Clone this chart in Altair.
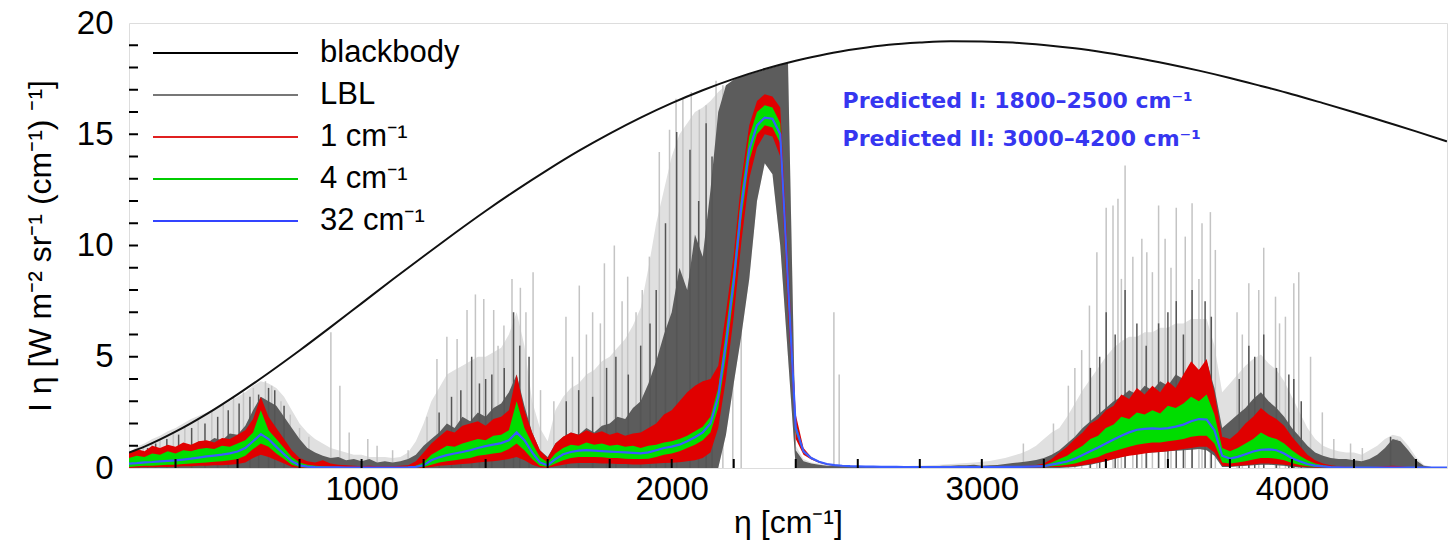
import altair as alt
import pandas as pd

# ---------------- data ----------------
NU = list(range(250, 4501, 25))  # sample positions (cm^-1)

# 32 cm^-1 smoothed spectrum (blue line)
BLUE_32 = [
    0.20, 0.22, 0.25, 0.27, 0.30, 0.32, 0.34, 0.38, 0.42, 0.47,   # 250-475
    0.52, 0.56, 0.60, 0.66, 0.74, 0.90, 1.20, 1.52, 1.30, 0.95,   # 500-725
    0.62, 0.30, 0.12, 0.06, 0.04, 0.03, 0.03, 0.03, 0.02, 0.02,   # 750-975
    0.02, 0.02, 0.02, 0.02, 0.02, 0.02, 0.03, 0.05, 0.12, 0.35,   # 1000-1225
    0.48, 0.58, 0.65, 0.72, 0.80, 0.90, 0.98, 1.05, 1.12, 1.25,   # 1250-1475
    1.60, 1.25, 0.70, 0.25, 0.12, 0.40, 0.62, 0.72, 0.78, 0.80,   # 1500-1725
    0.78, 0.76, 0.74, 0.72, 0.70, 0.68, 0.66, 0.70, 0.80, 0.90,   # 1750-1975
    0.96, 1.05, 1.20, 1.38, 1.60, 2.00, 3.20, 5.60, 8.40, 11.80,  # 2000-2225
    14.30, 15.40, 15.75, 15.70, 15.00, 8.30, 1.80, 0.75, 0.45, 0.28,  # 2250-2475
    0.18, 0.13, 0.10, 0.08, 0.07, 0.06, 0.06, 0.05, 0.05, 0.05,   # 2500-2725
    0.04, 0.04, 0.04, 0.04, 0.04, 0.04, 0.04, 0.04, 0.04, 0.04,   # 2750-2975
    0.04, 0.04, 0.04, 0.05, 0.05, 0.05, 0.06, 0.07, 0.08, 0.15,   # 3000-3225
    0.22, 0.29, 0.42, 0.58, 0.75, 0.92, 1.10, 1.28, 1.45, 1.60,   # 3250-3475
    1.72, 1.76, 1.78, 1.76, 1.79, 1.86, 1.95, 2.10, 2.20, 2.18,   # 3500-3725
    1.70, 0.55, 0.42, 0.50, 0.62, 0.74, 0.82, 0.84, 0.80, 0.65,   # 3750-3975
    0.44, 0.30, 0.18, 0.11, 0.07, 0.04, 0.03, 0.02, 0.02, 0.02,   # 4000-4225
    0.02, 0.02, 0.02, 0.02, 0.02, 0.02, 0.02, 0.02, 0.02, 0.02,   # 4250-4475
    0.02]                                                         # 4500

# 4 cm^-1 spectrum band (green): upper / lower envelope
GREEN_HI = [
    0.45, 0.55, 0.50, 0.65, 0.60, 0.75, 0.65, 0.80, 0.75, 0.85,
    0.90, 0.85, 1.00, 0.95, 1.10, 1.25, 1.60, 2.60, 1.70, 1.30,
    0.90, 0.50, 0.25, 0.15, 0.10, 0.08, 0.06, 0.05, 0.05, 0.04,
    0.04, 0.04, 0.04, 0.04, 0.04, 0.05, 0.06, 0.10, 0.25, 0.60,
    0.80, 1.00, 0.95, 1.10, 1.20, 1.30, 1.25, 1.45, 1.50, 1.70,
    3.00, 1.80, 1.10, 0.50, 0.25, 0.65, 0.90, 1.05, 1.00, 1.15,
    1.05, 1.10, 1.00, 1.05, 0.95, 1.00, 0.90, 1.00, 1.05, 1.15,
    1.20, 1.30, 1.45, 1.65, 1.85, 2.30, 3.60, 6.20, 9.00, 12.40,
    14.90, 16.00, 16.30, 16.20, 15.50, 8.80, 2.00, 0.80, 0.45, 0.28,
    0.18, 0.13, 0.10, 0.08, 0.07, 0.06, 0.06, 0.05, 0.05, 0.05,
    0.05, 0.05, 0.05, 0.05, 0.05, 0.05, 0.05, 0.05, 0.05, 0.05,
    0.05, 0.05, 0.05, 0.06, 0.06, 0.07, 0.08, 0.10, 0.12, 0.25,
    0.40, 0.55, 0.80, 1.00, 1.30, 1.45, 1.80, 1.95, 2.30, 2.20,
    2.50, 2.40, 2.60, 2.45, 2.80, 2.70, 2.90, 3.20, 3.00, 3.30,
    2.40, 0.90, 0.75, 0.90, 1.10, 1.30, 1.60, 1.40, 1.30, 1.10,
    0.80, 0.55, 0.35, 0.20, 0.12, 0.07, 0.05, 0.04, 0.03, 0.03,
    0.03, 0.03, 0.03, 0.03, 0.03, 0.03, 0.03, 0.03, 0.03, 0.03,
    0.03]
GREEN_LO = [
    0.05, 0.08, 0.10, 0.10, 0.12, 0.15, 0.15, 0.18, 0.20, 0.22,
    0.25, 0.28, 0.30, 0.35, 0.40, 0.55, 0.85, 1.10, 0.95, 0.65,
    0.40, 0.15, 0.05, 0.02, 0.01, 0.01, 0.01, 0.01, 0.01, 0.01,
    0.01, 0.01, 0.01, 0.01, 0.01, 0.01, 0.01, 0.02, 0.05, 0.15,
    0.25, 0.30, 0.35, 0.40, 0.45, 0.55, 0.60, 0.65, 0.70, 0.85,
    1.10, 0.80, 0.40, 0.10, 0.05, 0.20, 0.35, 0.45, 0.50, 0.50,
    0.50, 0.48, 0.45, 0.45, 0.42, 0.40, 0.40, 0.42, 0.50, 0.60,
    0.65, 0.75, 0.90, 1.05, 1.25, 1.60, 2.70, 5.00, 7.80, 11.20,
    13.80, 15.00, 15.40, 15.30, 14.60, 7.80, 1.60, 0.70, 0.42, 0.26,
    0.17, 0.12, 0.09, 0.07, 0.06, 0.05, 0.05, 0.04, 0.04, 0.04,
    0.03, 0.03, 0.03, 0.03, 0.03, 0.03, 0.03, 0.03, 0.03, 0.03,
    0.03, 0.03, 0.03, 0.04, 0.04, 0.04, 0.04, 0.05, 0.05, 0.08,
    0.10, 0.15, 0.20, 0.30, 0.40, 0.50, 0.65, 0.75, 0.85, 0.95,
    1.05, 1.10, 1.15, 1.15, 1.20, 1.25, 1.30, 1.40, 1.45, 1.45,
    1.10, 0.25, 0.20, 0.25, 0.30, 0.38, 0.45, 0.45, 0.42, 0.35,
    0.22, 0.14, 0.08, 0.05, 0.03, 0.02, 0.01, 0.01, 0.01, 0.01,
    0.01, 0.01, 0.01, 0.01, 0.01, 0.01, 0.01, 0.01, 0.01, 0.01,
    0.01]

# 1 cm^-1 spectrum band (red): upper / lower envelope
RED_HI = [
    0.70, 0.85, 0.75, 1.00, 0.90, 1.05, 0.95, 1.15, 1.05, 1.20,
    1.25, 1.15, 1.35, 1.30, 1.50, 1.70, 2.20, 3.20, 2.30, 1.80,
    1.30, 0.80, 0.45, 0.30, 0.25, 0.35, 0.20, 0.15, 0.12, 0.10,
    0.08, 0.10, 0.08, 0.08, 0.08, 0.10, 0.12, 0.30, 0.70, 1.10,
    1.40, 1.70, 1.60, 1.90, 2.00, 2.10, 1.90, 2.20, 2.30, 2.60,
    4.20, 2.60, 1.60, 0.80, 0.45, 1.10, 1.40, 1.60, 1.50, 1.70,
    1.55, 1.65, 1.50, 1.60, 1.45, 1.55, 1.60, 1.80, 2.00, 2.40,
    2.60, 3.00, 3.40, 3.70, 3.90, 4.00, 4.60, 7.00, 9.60, 13.00,
    15.40, 16.50, 16.80, 16.70, 16.20, 9.40, 2.40, 0.90, 0.50, 0.30,
    0.20, 0.15, 0.12, 0.10, 0.08, 0.07, 0.06, 0.06, 0.05, 0.05,
    0.05, 0.05, 0.05, 0.05, 0.05, 0.05, 0.05, 0.05, 0.05, 0.05,
    0.06, 0.06, 0.06, 0.07, 0.08, 0.09, 0.10, 0.14, 0.20, 0.40,
    0.70, 0.95, 1.30, 1.60, 2.00, 2.20, 2.60, 2.80, 3.30, 3.10,
    3.60, 3.30, 3.70, 3.40, 3.90, 3.60, 4.20, 4.80, 4.40, 4.90,
    3.40, 1.40, 1.30, 1.60, 2.00, 2.30, 2.70, 2.40, 2.20, 1.90,
    1.40, 1.00, 0.60, 0.35, 0.20, 0.12, 0.08, 0.06, 0.05, 0.05,
    0.05, 0.06, 0.08, 0.10, 0.08, 0.05, 0.04, 0.04, 0.04, 0.04,
    0.04]
RED_LO = [
    0.00, 0.02, 0.03, 0.03, 0.05, 0.05, 0.06, 0.08, 0.08, 0.10,
    0.10, 0.12, 0.12, 0.15, 0.18, 0.25, 0.45, 0.60, 0.50, 0.35,
    0.20, 0.05, 0.01, 0.00, 0.00, 0.00, 0.00, 0.00, 0.00, 0.00,
    0.00, 0.00, 0.00, 0.00, 0.00, 0.00, 0.00, 0.00, 0.01, 0.05,
    0.10, 0.12, 0.15, 0.18, 0.20, 0.25, 0.28, 0.30, 0.35, 0.40,
    0.50, 0.35, 0.15, 0.03, 0.01, 0.08, 0.15, 0.20, 0.22, 0.22,
    0.22, 0.20, 0.20, 0.18, 0.18, 0.16, 0.16, 0.18, 0.20, 0.22,
    0.24, 0.26, 0.30, 0.35, 0.45, 0.70, 1.80, 4.00, 6.80, 10.20,
    13.00, 14.40, 15.00, 14.90, 14.00, 7.00, 1.30, 0.60, 0.38, 0.24,
    0.15, 0.10, 0.08, 0.06, 0.05, 0.04, 0.04, 0.03, 0.03, 0.03,
    0.02, 0.02, 0.02, 0.02, 0.02, 0.02, 0.02, 0.02, 0.02, 0.02,
    0.02, 0.02, 0.02, 0.02, 0.02, 0.02, 0.03, 0.03, 0.03, 0.04,
    0.05, 0.06, 0.08, 0.12, 0.18, 0.25, 0.32, 0.40, 0.48, 0.55,
    0.60, 0.65, 0.70, 0.72, 0.75, 0.80, 0.85, 0.90, 0.95, 0.95,
    0.70, 0.10, 0.08, 0.10, 0.12, 0.16, 0.20, 0.20, 0.18, 0.15,
    0.10, 0.06, 0.04, 0.02, 0.01, 0.01, 0.00, 0.00, 0.00, 0.00,
    0.00, 0.00, 0.00, 0.00, 0.00, 0.00, 0.00, 0.00, 0.00, 0.00,
    0.00]

# LBL spectrum: dense (dark) envelope
LBL_DARK_HI = [
    0.45, 0.60, 0.55, 0.75, 0.70, 0.90, 0.80, 1.05, 0.95, 1.20,
    1.10, 1.35, 1.25, 1.55, 1.50, 1.90, 2.60, 3.20, 3.00, 2.80,
    2.30, 1.80, 1.30, 0.90, 0.70, 0.55, 0.45, 0.50, 0.35, 0.40,
    0.30, 0.40, 0.25, 0.30, 0.25, 0.30, 0.40, 0.60, 1.00, 1.30,
    1.60, 2.00, 1.80, 2.30, 2.10, 2.50, 2.30, 2.70, 2.90, 3.40,
    4.20, 2.80, 1.60, 0.80, 0.50, 1.10, 1.40, 1.60, 1.50, 1.80,
    1.60, 1.90, 2.00, 2.30, 2.20, 2.70, 3.00, 3.80, 4.80, 6.00,
    7.00, 9.00, 8.00, 10.50, 9.50, 12.50, 16.00, 17.20, 17.45, 17.60,
    17.70, 17.80, 17.90, 18.00, 18.10, 18.20, 0.80, 0.30, 0.20, 0.15,
    0.10, 0.10, 0.08, 0.06, 0.05, 0.05, 0.05, 0.05, 0.05, 0.05,
    0.05, 0.06, 0.06, 0.08, 0.08, 0.10, 0.10, 0.12, 0.12, 0.15,
    0.10, 0.12, 0.14, 0.18, 0.22, 0.26, 0.30, 0.36, 0.45, 0.60,
    0.80, 1.10, 1.40, 1.80, 2.10, 2.40, 2.70, 3.00, 3.20, 3.50,
    3.30, 3.70, 3.50, 3.90, 3.70, 4.20, 4.00, 4.60, 4.40, 4.80,
    3.60, 1.80, 2.10, 2.40, 2.70, 3.10, 3.40, 3.00, 2.70, 2.30,
    1.80, 1.40, 1.00, 0.70, 0.55, 0.45, 0.40, 0.40, 0.35, 0.30,
    0.40, 0.60, 0.90, 1.30, 1.20, 0.80, 0.35, 0.10, 0.05, 0.03,
    0.02]
LBL_DARK_LO = [
    0.00, 0.00, 0.00, 0.00, 0.00, 0.00, 0.00, 0.00, 0.00, 0.00,
    0.00, 0.00, 0.00, 0.00, 0.00, 0.00, 0.00, 0.00, 0.00, 0.00,
    0.00, 0.00, 0.00, 0.00, 0.00, 0.00, 0.00, 0.00, 0.00, 0.00,
    0.00, 0.00, 0.00, 0.00, 0.00, 0.00, 0.00, 0.00, 0.00, 0.00,
    0.00, 0.00, 0.00, 0.00, 0.00, 0.00, 0.00, 0.00, 0.00, 0.00,
    0.00, 0.00, 0.00, 0.00, 0.00, 0.00, 0.00, 0.00, 0.00, 0.00,
    0.00, 0.00, 0.00, 0.00, 0.00, 0.00, 0.00, 0.00, 0.00, 0.00,
    0.00, 0.00, 0.00, 0.00, 0.00, 0.00, 0.00, 1.50, 3.80, 6.00,
    8.50, 12.00, 13.70, 13.20, 10.00, 5.00, 0.00, 0.00, 0.00, 0.00,
    0.00, 0.00, 0.00, 0.00, 0.00, 0.00, 0.00, 0.00, 0.00, 0.00,
    0.00, 0.00, 0.00, 0.00, 0.00, 0.00, 0.00, 0.00, 0.00, 0.00,
    0.00, 0.00, 0.00, 0.00, 0.00, 0.00, 0.00, 0.00, 0.00, 0.00,
    0.00, 0.02, 0.05, 0.10, 0.15, 0.22, 0.30, 0.40, 0.50, 0.58,
    0.65, 0.68, 0.70, 0.72, 0.75, 0.78, 0.80, 0.82, 0.85, 0.80,
    0.55, 0.05, 0.05, 0.08, 0.10, 0.12, 0.15, 0.15, 0.12, 0.10,
    0.05, 0.02, 0.00, 0.00, 0.00, 0.00, 0.00, 0.00, 0.00, 0.00,
    0.00, 0.00, 0.00, 0.00, 0.00, 0.00, 0.00, 0.00, 0.00, 0.00,
    0.00]

# LBL spectrum: sparse (light) haze envelope
LBL_LIGHT_HI = [
    0.70, 0.95, 1.10, 1.30, 1.45, 1.65, 1.80, 2.00, 2.20, 2.35,
    2.50, 2.65, 2.80, 3.00, 3.20, 3.40, 3.70, 3.90, 3.80, 3.60,
    3.20, 2.60, 2.00, 1.60, 1.30, 1.10, 0.90, 0.80, 0.70, 0.60,
    0.60, 0.50, 0.50, 0.50, 0.45, 0.50, 0.70, 1.20, 2.00, 3.00,
    3.60, 4.20, 4.40, 4.60, 4.80, 5.00, 5.00, 5.20, 5.40, 6.00,
    7.00, 5.50, 3.00, 1.80, 1.20, 2.60, 3.20, 3.60, 3.80, 4.20,
    4.40, 4.80, 5.00, 5.40, 5.80, 6.40, 7.20, 9.00, 11.00, 12.50,
    14.00, 15.00, 15.50, 16.00, 16.20, 16.50, 16.90, 17.20, 17.45, 17.60,
    17.70, 17.80, 17.90, 18.00, 18.10, 18.20, 1.00, 0.40, 0.25, 0.20,
    0.15, 0.12, 0.10, 0.08, 0.08, 0.07, 0.07, 0.07, 0.08, 0.08,
    0.08, 0.10, 0.10, 0.12, 0.14, 0.16, 0.18, 0.20, 0.22, 0.25,
    0.28, 0.32, 0.38, 0.45, 0.55, 0.65, 0.80, 1.00, 1.30, 1.60,
    1.80, 2.30, 2.90, 3.50, 4.00, 4.50, 5.00, 5.40, 5.70, 5.90,
    5.90, 6.10, 6.10, 6.30, 6.30, 6.50, 6.50, 6.70, 6.70, 6.70,
    5.50, 3.40, 3.80, 4.20, 4.60, 4.90, 5.10, 4.70, 4.40, 3.90,
    3.20, 2.50, 1.80, 1.30, 1.00, 0.85, 0.75, 0.70, 0.70, 0.60,
    0.80, 1.00, 1.30, 1.50, 1.40, 1.00, 0.50, 0.15, 0.05, 0.03,
    0.02]

# individual LBL line peaks (light grey spikes)
SPIKE_NU = [263, 296, 323, 350, 393, 430, 473, 517, 554, 587, 619, 651,
            690, 710, 740, 770, 800, 830, 901, 930, 960, 1020, 1050, 1100, 1150,
            1211, 1243, 1275, 1308, 1340, 1367, 1394, 1426, 1440, 1459, 1485,
            1512, 1530, 1553, 1577,
            1620, 1659, 1680, 1702, 1725, 1745, 1770, 1783, 1815, 1840, 1858,
            1885, 1905, 1928, 1960, 1993, 2014, 2036, 2063, 2089, 2111, 2143,
            2165, 2197, 2224, 2523, 2540,
            3134, 3231, 3279, 3300, 3322, 3347, 3371, 3401, 3423, 3439, 3450,
            3462, 3487, 3516, 3532, 3550, 3570, 3591, 3610, 3627, 3656, 3678,
            3700, 3710, 3737, 3753, 3823, 3840, 3861, 3893, 3909, 3947, 3960,
            3979, 4006, 4022, 4060, 4098, 4135, 4189, 4227, 4318, 4339]
SPIKE_TOP = [0.75, 0.95, 1.10, 1.25, 1.55, 1.85, 2.15, 2.55, 2.85, 3.15, 3.40, 3.60,
             3.90, 3.70, 3.00, 2.40, 1.80, 1.40, 6.10, 3.70, 1.60, 1.30, 1.00, 0.80, 0.80,
             2.30, 4.90, 5.90, 5.80, 7.10, 7.80, 7.60, 7.10, 5.50, 6.40, 8.50,
             8.10, 7.00, 8.80, 3.50,
             3.00, 6.80, 5.00, 8.20, 6.00, 7.00, 6.50, 9.20, 10.00, 7.50, 8.60,
             7.00, 8.00, 9.50, 14.20, 15.20, 16.60, 16.60, 16.90, 16.10, 16.30, 17.40,
             17.20, 17.45, 17.60, 7.00, 4.20,
             1.10, 2.00, 3.70, 4.50, 5.30, 7.30, 9.70, 11.70, 11.80, 12.10, 8.50,
             13.60, 9.50, 10.30, 9.70, 8.80, 11.80, 10.30, 9.00, 11.70, 10.40, 11.90,
             8.50, 11.00, 11.50, 9.80, 7.00, 6.00, 8.30, 8.00, 9.90, 7.70, 6.50,
             6.80, 8.30, 8.80, 5.00, 2.50, 1.30, 1.10, 0.90, 1.40, 1.30]

# strong LBL line peaks inside the dense part (dark grey spikes)
DSPIKE_NU = [280, 310, 336, 372, 410, 452, 495, 536, 570, 605, 640, 668, 700, 720, 750,
             1250, 1290, 1320, 1355, 1380, 1400, 1420, 1460, 1490, 1510, 1540,
             1660, 1700, 1745, 1790, 1820, 1860, 1900, 1930, 1950, 1980, 2016, 2059,
             2087, 2111, 2130,
             3350, 3380, 3401, 3430, 3462, 3500, 3530, 3570, 3600, 3627, 3650, 3678,
             3720, 3740, 3830, 3861, 3880, 3909, 3950, 3990, 4006, 4030, 4318]
DSPIKE_TOP = [0.80, 0.90, 1.10, 1.30, 1.50, 1.80, 2.00, 2.30, 2.60, 2.90, 3.20, 3.30,
              3.60, 3.50, 2.80,
              2.50, 3.20, 3.50, 5.00, 3.80, 4.00, 4.20, 4.50, 7.00, 5.50, 5.00,
              3.00, 3.50, 3.20, 4.50, 5.00, 4.20, 5.50, 6.50, 8.00, 11.00, 15.10, 14.30,
              12.00, 15.50, 14.00,
              4.50, 5.00, 7.00, 6.00, 8.00, 6.50, 5.50, 6.50, 7.00, 7.50, 6.00, 8.00,
              7.50, 6.80, 4.00, 5.50, 5.00, 6.00, 4.50, 4.20, 4.00, 3.00, 1.40]

# blackbody curve
BB_NU = [250, 300, 400, 500, 600, 700, 800, 900, 1000, 1100, 1200, 1300, 1400,
         1500, 1600, 1700, 1800, 1900, 2000, 2100, 2200, 2300, 2400, 2500, 2600,
         2700, 2800, 2900, 3000, 3100, 3200, 3300, 3400, 3500, 3600, 3700, 3800,
         3900, 4000, 4100, 4200, 4300, 4400, 4500]
BB_VAL = [0.69, 0.96, 1.63, 2.42, 3.31, 4.27, 5.28, 6.33, 7.40, 8.47, 9.52, 10.55,
          11.55, 12.50, 13.40, 14.25, 15.03, 15.75, 16.40, 16.98, 17.49, 17.93, 18.30,
          18.61, 18.84, 19.02, 19.12, 19.18, 19.17, 19.12, 19.01, 18.86, 18.66, 18.43,
          18.16, 17.86, 17.53, 17.17, 16.80, 16.40, 15.99, 15.56, 15.13, 14.68]

SERIES = ["blackbody", "LBL", "1 cm⁻¹", "4 cm⁻¹", "32 cm⁻¹"]
SERIES_COLORS = ["#000000", "#777777", "#e02020", "#00cc00", "#3344ff"]

ANN_TEXT = ["Predicted I: 1800–2500 cm⁻¹", "Predicted II: 3000–4200 cm⁻¹"]
ANN_NU = [2551, 2551]
ANN_VAL = [16.17, 14.46]

Y_TICKS = list(range(1, 20))
X_TICKS = list(range(400, 4401, 200))

# ---------------- tables ----------------
df = pd.DataFrame({"nu": NU, "blue": BLUE_32, "g_hi": GREEN_HI, "g_lo": GREEN_LO,
                   "r_hi": RED_HI, "r_lo": RED_LO, "d_hi": LBL_DARK_HI,
                   "d_lo": LBL_DARK_LO, "l_hi": LBL_LIGHT_HI})
df_sp = pd.DataFrame({"nu": SPIKE_NU, "top": SPIKE_TOP})
df_dsp = pd.DataFrame({"nu": DSPIKE_NU, "top": DSPIKE_TOP})
df_bb = pd.DataFrame({"nu": BB_NU, "v": BB_VAL})
df_ann = pd.DataFrame({"nu": ANN_NU, "v": ANN_VAL, "txt": ANN_TEXT})
df_leg = pd.DataFrame({"series": SERIES, "nu": [250] * 5, "v": [0.0] * 5})
df_yt = pd.DataFrame({"t": Y_TICKS})
df_xt = pd.DataFrame({"t": X_TICKS})

FONT = "Liberation Sans"
xs = alt.Scale(domain=[250, 4500], nice=False, zero=False)
ys = alt.Scale(domain=[0, 20], nice=False)

AX_X = alt.Axis(values=[1000, 2000, 3000, 4000], format="d", title="η [cm⁻¹]",
                titleFont=FONT, titleFontSize=32, titleFontWeight="normal",
                titleColor="black", titleY=54, titleBaseline="middle",
                labelFont=FONT, labelFontSize=33, labelColor="black",
                labelPadding=5, ticks=False, domain=False, grid=False,
                labelFlush=False)
AX_Y = alt.Axis(values=[0, 5, 10, 15, 20], format="d",
                title="I η [W m⁻² sr⁻¹ (cm⁻¹) ⁻¹]",
                titleFont=FONT, titleFontSize=32, titleFontWeight="normal",
                titleColor="black", titleX=-89, titleY=222.5, titleAngle=270,
                titleBaseline="middle", titleAlign="center",
                labelFont=FONT, labelFontSize=33, labelColor="black",
                labelPadding=16, ticks=False, domain=False, grid=False,
                labelFlush=False)


def X(f):
    return alt.X(f, type="quantitative", scale=xs, axis=AX_X)


def Y(f):
    return alt.Y(f, type="quantitative", scale=ys, axis=AX_Y)


base = alt.Chart(df)

light_area = base.mark_area(color="#e0e0e0", clip=True).encode(
    x=X("nu"), y=Y("d_lo"), y2="l_hi")
light_spikes = alt.Chart(df_sp).mark_rule(color="#c4c4c4", strokeWidth=1.5, clip=True).encode(
    x=X("nu"), y=Y("top"), y2=alt.datum(0))
dark_area = base.mark_area(color="#5c5c5c", clip=True).encode(
    x=X("nu"), y=Y("d_lo"), y2="d_hi")
dark_spikes = alt.Chart(df_dsp).mark_rule(color="#555555", strokeWidth=1.5, clip=True).encode(
    x=X("nu"), y=Y("top"), y2=alt.datum(0))
red_area = base.mark_area(color="#e00000", clip=True).encode(
    x=X("nu"), y=Y("r_lo"), y2="r_hi")
green_area = base.mark_area(color="#00dd00", clip=True).encode(
    x=X("nu"), y=Y("g_lo"), y2="g_hi")
blue_line = base.mark_line(color="#3a5cff", strokeWidth=2.2, clip=True).encode(
    x=X("nu"), y=Y("blue"))
bb_line = alt.Chart(df_bb).mark_line(color="#111111", strokeWidth=2, interpolate="monotone",
                                     clip=True).encode(x=X("nu"), y=Y("v"))

ytick = alt.Chart(df_yt).mark_rule(color="black", strokeWidth=2).encode(
    y=Y("t"), x=alt.value(0), x2=alt.value(9))
xtick = alt.Chart(df_xt).mark_rule(color="black", strokeWidth=2).encode(
    x=X("t"), y=alt.value(445), y2=alt.value(436))

ann = alt.Chart(df_ann).mark_text(align="left", baseline="alphabetic", font="DejaVu Sans",
                                  fontWeight="bold", fontSize=22, color="#3636f0").encode(
    x=X("nu"), y=Y("v"), text="txt:N")

legend_layer = alt.Chart(df_leg).mark_line(strokeWidth=2).encode(
    x=X("nu"), y=Y("v"),
    color=alt.Color("series:N", sort=SERIES,
                    scale=alt.Scale(domain=SERIES, range=SERIES_COLORS),
                    legend=alt.Legend(orient="none", legendX=23, legendY=9, title=None,
                                      symbolType="stroke", symbolSize=21025,
                                      symbolStrokeWidth=2, clipHeight=42,
                                      labelFont=FONT, labelFontSize=31,
                                      labelColor="black", labelOffset=21,
                                      rowPadding=0, padding=0, labelLimit=400)))

chart = alt.layer(light_area, light_spikes, dark_area, dark_spikes, red_area,
                  green_area, blue_line, bb_line, ytick, xtick, ann, legend_layer).properties(
    width=1318, height=445,
    autosize=alt.AutoSizeParams(type="none"),
    padding={"left": 129, "top": 23, "right": 6, "bottom": 78},
).configure_view(stroke="black", strokeWidth=2).configure(background="white")

chart.save("out.html", embed_options={"renderer": "svg", "actions": False})
